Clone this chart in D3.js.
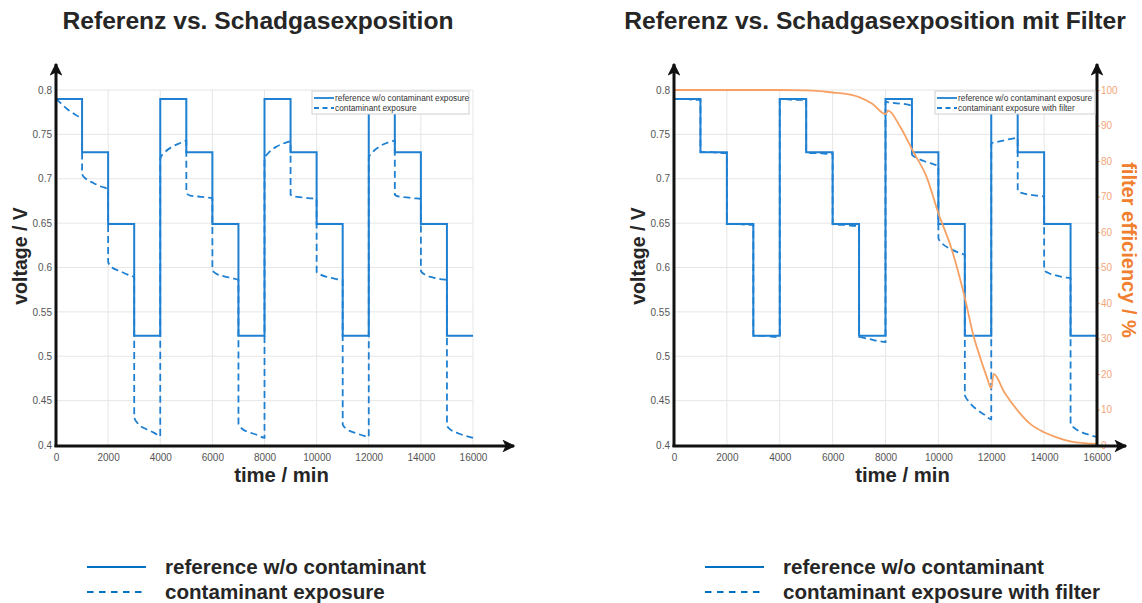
<!DOCTYPE html>
<html><head><meta charset="utf-8">
<script src="https://cdn.jsdelivr.net/npm/d3@7"></script>
<style>body{margin:0;background:#fff} svg{display:block}</style>
</head><body>
<svg id="c" width="1142" height="603"></svg>
<script>
// ---------- data ----------
const stepTimes = [0,1000,2000,3000,4000,5000,6000,7000,8000,9000,10000,11000,12000,13000,14000,15000,16000];
const refLevels = [0.790,0.730,0.649,0.523, 0.790,0.730,0.649,0.523, 0.790,0.730,0.649,0.523, 0.790,0.730,0.649,0.523];
const sampleOffsets = [1,150,450,750,1000];
const contamLeft = [
  [0.790,0.786,0.778,0.772,0.766],
  [0.705,0.700,0.695,0.691,0.688],
  [0.606,0.600,0.596,0.592,0.589],
  [0.431,0.424,0.418,0.414,0.410],
  [0.723,0.729,0.736,0.740,0.743],
  [0.684,0.681,0.680,0.679,0.678],
  [0.597,0.593,0.590,0.588,0.586],
  [0.424,0.418,0.414,0.411,0.408],
  [0.723,0.729,0.736,0.740,0.742],
  [0.682,0.680,0.679,0.678,0.677],
  [0.595,0.592,0.589,0.587,0.586],
  [0.423,0.418,0.414,0.411,0.409],
  [0.724,0.730,0.737,0.741,0.743],
  [0.682,0.680,0.679,0.678,0.677],
  [0.596,0.592,0.589,0.587,0.586],
  [0.422,0.417,0.413,0.410,0.408]
];
const contamFilter = [
  [0.790,0.790,0.790,0.789,0.789],
  [0.730,0.730,0.730,0.729,0.729],
  [0.649,0.649,0.649,0.648,0.648],
  [0.523,0.523,0.523,0.522,0.522],
  [0.790,0.790,0.789,0.789,0.789],
  [0.730,0.729,0.729,0.728,0.728],
  [0.649,0.648,0.648,0.647,0.647],
  [0.522,0.521,0.519,0.517,0.516],
  [0.787,0.786,0.785,0.784,0.782],
  [0.727,0.724,0.720,0.717,0.714],
  [0.633,0.627,0.621,0.617,0.614],
  [0.456,0.449,0.440,0.434,0.429],
  [0.740,0.741,0.743,0.745,0.746],
  [0.686,0.684,0.682,0.681,0.680],
  [0.597,0.594,0.591,0.589,0.588],
  [0.424,0.419,0.414,0.411,0.409]
];
const effTime = [0,4000,5000,5500,6000,6500,7000,7500,8000,8100,8550,9050,9550,10000,10500,11000,11320,11570,11830,12000,12090,12500,13000,13500,14000,14500,15000,15500,16000];
const effValue = [100,100,99.9,99.7,99.3,98.9,98.0,96.1,93.2,94.2,89.7,82.6,75.6,65.3,55.2,41.5,31.0,24.9,19.2,16.0,20.0,14.8,9.7,5.8,3.6,2.1,1.0,0.5,0.3];
const xTicks = [0,2000,4000,6000,8000,10000,12000,14000,16000];
const yTicks = [0.4,0.45,0.5,0.55,0.6,0.65,0.7,0.75,0.8];
const effTicks = [0,10,20,30,40,50,60,70,80,90,100];

// ---------- style ----------
const BLUE = "#1f80d2", LEGBLUE = "#0070c0", ORANGE = "#f7a164", ORANGE_T = "#f08030", TICKORANGE="#f4a57a";
const FONT = "'Liberation Sans', Arial, sans-serif";
const svg = d3.select("#c");

const defs = svg.append("defs");
defs.append("marker").attr("id","arr").attr("viewBox","0 0 10 10").attr("refX",9).attr("refY",5)
  .attr("markerWidth",4.3).attr("markerHeight",4.3).attr("markerUnits","strokeWidth").attr("orient","auto")
  .append("path").attr("d","M0,0 L10,5 L0,10 L2.5,5 Z").attr("fill","#111");

function buildContam(arr){
  const pts = [];
  arr.forEach((seg,i)=>seg.forEach((v,j)=>pts.push([stepTimes[i]+(i===0&&j===0?0:sampleOffsets[j]), v])));
  return pts;
}
function buildRef(){
  const pts = refLevels.map((v,i)=>[stepTimes[i],v]);
  pts.push([stepTimes[16], refLevels[15]]);
  return pts;
}

function panel(o){
  const x = d3.scaleLinear().domain([0,16000]).range([o.x0,o.x1]);
  const y = d3.scaleLinear().domain([0.4,0.8]).range([445,90]);
  const g = svg.append("g");

  // grid
  g.append("g").selectAll("line").data(xTicks.slice(1)).join("line")
    .attr("x1",d=>x(d)).attr("x2",d=>x(d)).attr("y1",y(0.4)).attr("y2",y(0.8))
    .attr("stroke","#e6e6e6").attr("stroke-width",1);
  g.append("g").selectAll("line").data(yTicks.slice(1)).join("line")
    .attr("x1",x(0)).attr("x2",x(16000)).attr("y1",d=>y(d)).attr("y2",d=>y(d))
    .attr("stroke","#e6e6e6").attr("stroke-width",1);

  // tick labels via axes
  const ax = g.append("g").attr("transform",`translate(0,${y(0.4)})`)
    .call(d3.axisBottom(x).tickValues(xTicks).tickSize(0).tickPadding(9).tickFormat(d3.format("d")));
  ax.select(".domain").remove();
  ax.selectAll("text").attr("font-family",FONT).attr("font-size",10).attr("fill","#555");
  const ay = g.append("g").attr("transform",`translate(${x(0)},0)`)
    .call(d3.axisLeft(y).tickValues(yTicks).tickSize(0).tickPadding(4).tickFormat(d=>String(+d.toFixed(2))));
  ay.select(".domain").remove();
  ay.selectAll("text").attr("font-family",FONT).attr("font-size",10).attr("fill","#555");

  // lines
  const line = d3.line().x(d=>x(d[0])).y(d=>y(d[1]));
  g.append("path").datum(buildRef()).attr("d",line.curve(d3.curveStepAfter))
    .attr("fill","none").attr("stroke",BLUE).attr("stroke-width",2);
  g.append("path").datum(buildContam(o.contam)).attr("d",d3.line().x(d=>x(d[0])).y(d=>y(d[1])).curve(d3.curveMonotoneX))
    .attr("fill","none").attr("stroke",BLUE).attr("stroke-width",1.8).attr("stroke-dasharray","7,4");

  if(o.eff){
    const yr = d3.scaleLinear().domain([0,100]).range([445,90]);
    const effPts = effTime.map((t,i)=>[t,effValue[i]]);
    g.append("path").datum(effPts).attr("d",d3.line().x(d=>x(d[0])).y(d=>yr(d[1])).curve(d3.curveMonotoneX))
      .attr("fill","none").attr("stroke",ORANGE).attr("stroke-width",1.8);
    const ar = g.append("g").attr("transform",`translate(${x(16000)},0)`)
      .call(d3.axisRight(yr).tickValues(effTicks).tickSize(3).tickPadding(1));
    ar.select(".domain").remove();
    ar.selectAll("line").attr("stroke",TICKORANGE);
    ar.selectAll("text").attr("font-family",FONT).attr("font-size",10).attr("fill",TICKORANGE);
    g.append("line").attr("x1",x(16000)).attr("x2",x(16000)).attr("y1",447).attr("y2",64)
      .attr("stroke","#111").attr("stroke-width",3).attr("marker-end","url(#arr)");
    g.append("text").attr("transform",`translate(${o.rLabelX},250) rotate(90)`)
      .attr("text-anchor","middle").attr("font-family",FONT).attr("font-weight","bold").attr("font-size",20)
      .attr("fill",ORANGE_T).text("filter efficiency / %");
  }

  // inner legend
  const lg = g.append("g");
  lg.append("rect").attr("x",o.lx).attr("y",91).attr("width",o.lw).attr("height",23)
    .attr("fill","#fff").attr("stroke","#cfcfcf").attr("stroke-width",1);
  [["solid",""],["dash","5,3.5"]].forEach((s,i)=>{
    lg.append("line").attr("x1",o.lx+2).attr("x2",o.lx+22).attr("y1",98+i*10).attr("y2",98+i*10)
      .attr("stroke",BLUE).attr("stroke-width",1.8).attr("stroke-dasharray",s[1]);
  });
  lg.append("text").attr("x",o.lx+23).attr("y",101).attr("font-family",FONT).attr("font-size",8.3).attr("fill","#333").text(o.leg1);
  lg.append("text").attr("x",o.lx+23).attr("y",111).attr("font-family",FONT).attr("font-size",8.3).attr("fill","#333").text(o.leg2);

  // main axes with arrows
  g.append("line").attr("x1",x(0)).attr("x2",x(0)).attr("y1",447).attr("y2",64)
    .attr("stroke","#111").attr("stroke-width",3).attr("marker-end","url(#arr)");
  g.append("line").attr("x1",x(0)-1.5).attr("x2",o.axEnd).attr("y1",446).attr("y2",446)
    .attr("stroke","#111").attr("stroke-width",3).attr("marker-end","url(#arr)");

  // axis titles
  g.append("text").attr("x",(o.x0+o.x1)/2 + 17).attr("y",482).attr("text-anchor","middle")
    .attr("font-family",FONT).attr("font-weight","bold").attr("font-size",20.3).attr("fill","#262626").text("time / min");
  g.append("text").attr("transform",`translate(${o.x0-29},256) rotate(-90)`).attr("text-anchor","middle")
    .attr("font-family",FONT).attr("font-weight","bold").attr("font-size",19.5).attr("fill","#262626").text("voltage / V");

  // title
  g.append("text").attr("x",o.titleX).attr("y",29).attr("text-anchor","middle")
    .attr("font-family",FONT).attr("font-weight","bold").attr("font-size",24.6).attr("fill","#262626").text(o.title);

  // bottom legend
  const bl = g.append("g");
  bl.append("line").attr("x1",o.blx).attr("x2",o.blx+59).attr("y1",567).attr("y2",567)
    .attr("stroke",LEGBLUE).attr("stroke-width",2.2);
  bl.append("line").attr("x1",o.blx).attr("x2",o.blx+59).attr("y1",592).attr("y2",592)
    .attr("stroke",LEGBLUE).attr("stroke-width",2.2).attr("stroke-dasharray","6.5,5.5");
  bl.append("text").attr("x",o.blx+78).attr("y",574).attr("font-family",FONT).attr("font-weight","bold")
    .attr("font-size",20.6).attr("fill","#262626").text(o.b1);
  bl.append("text").attr("x",o.blx+78).attr("y",599).attr("font-family",FONT).attr("font-weight","bold")
    .attr("font-size",20.6).attr("fill","#262626").text(o.b2);
}

panel({x0:56,x1:473,contam:contamLeft,eff:false,lx:312,lw:157,axEnd:514,
  leg1:"reference w/o contaminant exposure",leg2:"contaminant exposure",
  title:"Referenz vs. Schadgasexposition",titleX:258,blx:87,
  b1:"reference w/o contaminant",b2:"contaminant exposure"});
panel({x0:674,x1:1097,contam:contamFilter,eff:true,lx:935,lw:160,axEnd:1126,rLabelX:1122,
  leg1:"reference w/o contaminant exposure",leg2:"contaminant exposure with filter",
  title:"Referenz vs. Schadgasexposition mit Filter",titleX:875,blx:705,
  b1:"reference w/o contaminant",b2:"contaminant exposure with filter"});
</script>
</body></html>
